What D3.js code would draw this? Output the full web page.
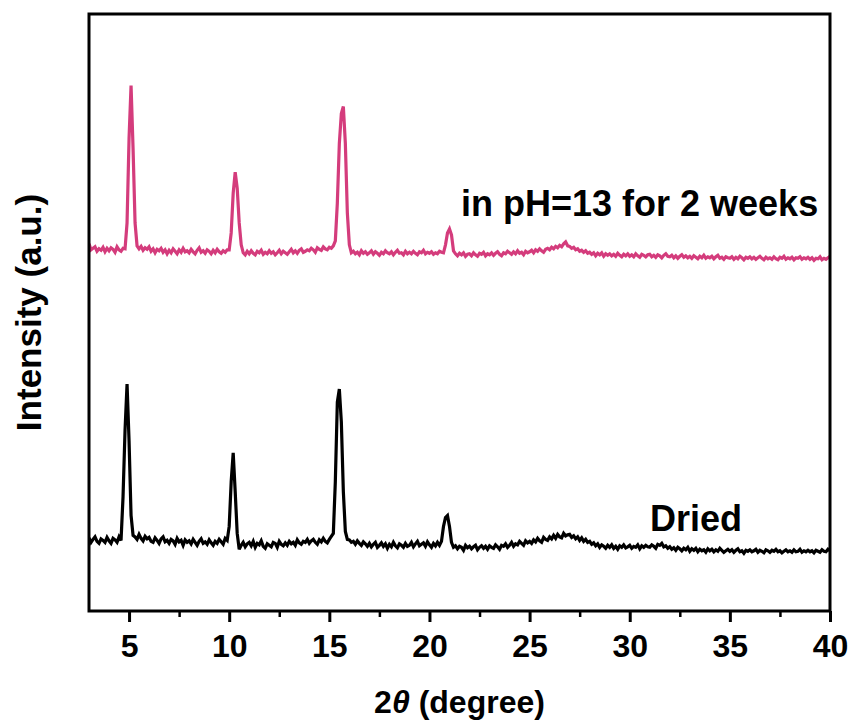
<!DOCTYPE html>
<html>
<head>
<meta charset="utf-8">
<script src="https://cdn.jsdelivr.net/npm/d3@7"></script>
<style>
  html, body { margin: 0; padding: 0; background: #fff; }
  svg { display: block; font-family: "Liberation Sans", Arial, sans-serif; }
</style>
</head>
<body>
<svg id="chart" width="854" height="727"></svg>
<script>
// XRD step scan: 2θ from 3° to 40°, 0.1° per step
const scanStart = 3.0;
const scanStep = 0.1;

// Dried sample (counts)
const dried = [
  735, 690, 720, 745, 700, 680, 725, 710, 690, 740,
  705, 680, 730, 715, 690, 745, 710, 1150, 1820, 2280,
  1710, 960, 760, 745, 720, 770, 730, 705, 750, 725,
  740, 700, 690, 735, 710, 680, 725, 745, 695, 710,
  680, 720, 705, 670, 730, 695, 710, 660, 715, 690,
  705, 675, 720, 690, 660, 700, 725, 680, 695, 670,
  715, 685, 660, 700, 680, 720, 695, 670, 730, 710,
  850, 1300, 1590, 1200, 780, 620, 660, 690, 645, 675,
  690, 655, 700, 640, 680, 665, 705, 650, 630, 675,
  660, 645, 690, 680, 640, 700, 670, 655, 685, 660,
  700, 675, 690, 660, 715, 685, 670, 700, 690, 720,
  680, 705, 720, 690, 670, 715, 695, 730, 700, 685,
  720, 750, 780, 1300, 2100, 2230, 1900, 1200, 800, 720,
  715, 690, 700, 670, 705, 680, 660, 695, 675, 650,
  680, 645, 670, 690, 640, 660, 685, 650, 675, 630,
  670, 645, 690, 655, 635, 675, 660, 640, 680, 650,
  660, 690, 645, 675, 700, 655, 670, 685, 650, 695,
  665, 640, 680, 655, 690, 660, 700, 850, 940, 960,
  850, 690, 640, 655, 625, 650, 640, 610, 660, 635,
  650, 625, 645, 660, 615, 640, 655, 630, 650, 620,
  655, 640, 630, 665, 645, 620, 660, 650, 675, 640,
  660, 690, 650, 675, 665, 700, 680, 660, 705, 685,
  700, 680, 715, 695, 730, 705, 690, 740, 720, 710,
  745, 725, 760, 730, 770, 745, 735, 780, 755, 765,
  770, 740, 755, 725, 745, 710, 735, 700, 720, 690,
  700, 670, 685, 655, 675, 640, 665, 650, 630, 660,
  640, 665, 630, 650, 620, 655, 640, 665, 635, 645,
  660, 630, 650, 640, 665, 625, 655, 640, 660, 645,
  640, 665, 650, 630, 670, 660, 680, 645, 655, 630,
  645, 620, 635, 610, 640, 625, 605, 630, 615, 640,
  600, 625, 610, 630, 595, 620, 605, 615, 590, 625,
  605, 620, 595, 615, 600, 630, 610, 590, 605, 620,
  600, 615, 590, 610, 625, 595, 605, 580, 610, 600,
  615, 595, 605, 620, 590, 610, 600, 585, 615, 605,
  590, 610, 600, 620, 595, 605, 585, 600, 615, 595,
  605, 590, 615, 595, 600, 620, 590, 605, 595, 610,
  595, 605, 585, 610, 600, 590, 615, 600, 595, 620,
  605
];

// Sample kept in pH = 13 for 2 weeks (counts)
const treated = [
  790, 730, 745, 760, 715, 740, 725, 755, 710, 745,
  720, 750, 735, 705, 760, 730, 715, 745, 740, 1000,
  1850, 2380, 1750, 1000, 770, 740, 765, 725, 750, 735,
  760, 715, 740, 700, 735, 720, 745, 705, 730, 690,
  725, 700, 740, 715, 690, 730, 705, 745, 710, 720,
  700, 735, 710, 690, 725, 750, 705, 720, 695, 730,
  715, 690, 725, 700, 735, 710, 695, 720, 705, 730,
  730, 900, 1300, 1510, 1350, 1000, 780, 700, 680, 715,
  690, 720, 695, 680, 715, 700, 725, 685, 705, 690,
  720, 695, 710, 680, 700, 725, 690, 715, 700, 685,
  710, 735, 700, 720, 695, 725, 740, 705, 715, 730,
  720, 745, 730, 705, 750, 735, 725, 760, 740, 730,
  755, 745, 770, 820, 1200, 1800, 2100, 2170, 1800, 1100,
  780, 700, 715, 690, 705, 680, 720, 695, 710, 685,
  700, 720, 685, 710, 695, 675, 705, 690, 720, 700,
  690, 710, 680, 705, 725, 695, 700, 680, 715, 690,
  705, 690, 715, 695, 680, 710, 700, 725, 690, 705,
  695, 710, 685, 700, 690, 715, 705, 700, 780, 900,
  940, 880, 720, 690, 670, 695, 680, 700, 665, 685,
  690, 670, 700, 680, 665, 695, 685, 705, 670, 690,
  680, 700, 675, 695, 710, 685, 670, 700, 690, 715,
  700, 685, 710, 690, 720, 695, 705, 680, 715, 700,
  710, 725, 700, 730, 715, 740, 720, 705, 735, 745,
  730, 755, 740, 765, 750, 775, 760, 790, 810, 770,
  765, 745, 755, 730, 740, 715, 725, 705, 720, 695,
  705, 685, 700, 670, 695, 680, 700, 665, 690, 675,
  690, 670, 685, 665, 695, 675, 660, 685, 670, 690,
  665, 680, 660, 690, 670, 655, 685, 675, 660, 680,
  685, 660, 675, 655, 680, 670, 650, 675, 690, 665,
  660, 675, 650, 670, 645, 665, 680, 655, 670, 650,
  665, 645, 670, 655, 640, 665, 650, 675, 645, 660,
  650, 665, 640, 660, 675, 645, 655, 635, 660, 650,
  645, 660, 635, 655, 640, 665, 650, 630, 655, 645,
  660, 640, 655, 635, 650, 665, 645, 630, 655, 640,
  650, 635, 660, 640, 630, 655, 645, 665, 635, 650,
  640, 655, 630, 650, 645, 660, 635, 650, 640, 655,
  635, 650, 625, 645, 640, 660, 630, 645, 635, 650,
  665
];

// vertical stacking offset for the upper pattern
const treatedOffset = 2900;

const majorTicks = [5, 10, 15, 20, 25, 30, 35, 40];
const minorTicks = [7.5, 12.5, 17.5, 22.5, 27.5, 32.5, 37.5];

const seriesLabels = ["in pH=13 for 2 weeks", "Dried"];
const seriesColors = ["#d43c7c", "#000000"];

const svg = d3.select("#chart");
const margin = { left: 89, top: 14, right: 24, bottom: 116 };
const W = 854, H = 727;
const plotW = W - margin.left - margin.right;
const plotH = H - margin.top - margin.bottom;

const x = d3.scaleLinear().domain([3, 40]).range([margin.left, margin.left + plotW]);
const y = d3.scaleLinear().domain([0, 6000]).range([margin.top + plotH, margin.top]);

const angle = i => scanStart + i * scanStep;

const line = d3.line()
  .x(d => x(d.t))
  .y(d => y(d.v));

const treatedPts = treated.map((v, i) => ({ t: angle(i), v: v + treatedOffset }));
const driedPts = dried.map((v, i) => ({ t: angle(i), v: v }));

svg.append("clipPath").attr("id", "plotclip")
  .append("rect")
  .attr("x", margin.left).attr("y", margin.top)
  .attr("width", plotW).attr("height", plotH);

const g = svg.append("g").attr("clip-path", "url(#plotclip)");

g.append("path")
  .datum(treatedPts)
  .attr("d", line)
  .attr("fill", "none")
  .attr("stroke", seriesColors[0])
  .attr("stroke-width", 3.2)
  .attr("stroke-linejoin", "miter")
  .attr("stroke-miterlimit", 3);

g.append("path")
  .datum(driedPts)
  .attr("d", line)
  .attr("fill", "none")
  .attr("stroke", seriesColors[1])
  .attr("stroke-width", 3.2)
  .attr("stroke-linejoin", "miter")
  .attr("stroke-miterlimit", 3);

// bottom axis: major ticks with labels, minor ticks without
const axisY = margin.top + plotH;
const xAxis = d3.axisBottom(x)
  .tickValues(majorTicks)
  .tickSize(11)
  .tickSizeOuter(0)
  .tickPadding(12)
  .tickFormat(d3.format("d"));

const ax = svg.append("g")
  .attr("transform", `translate(0,${axisY})`)
  .call(xAxis);
ax.select(".domain").remove();
ax.selectAll(".tick line").attr("stroke", "#000").attr("stroke-width", 3);
ax.selectAll(".tick text")
  .attr("fill", "#000")
  .style("font-family", "'Liberation Sans', Arial, sans-serif")
  .style("font-size", "32px")
  .style("font-weight", "bold");

const axMinor = svg.append("g")
  .attr("transform", `translate(0,${axisY})`)
  .call(d3.axisBottom(x).tickValues(minorTicks).tickSize(6).tickSizeOuter(0).tickFormat(""));
axMinor.select(".domain").remove();
axMinor.selectAll(".tick line").attr("stroke", "#000").attr("stroke-width", 2.5);

// frame
svg.append("rect")
  .attr("x", margin.left).attr("y", margin.top)
  .attr("width", plotW).attr("height", plotH)
  .attr("fill", "none")
  .attr("stroke", "#000")
  .attr("stroke-width", 3);

// axis titles
const xTitle = svg.append("text")
  .attr("x", margin.left + plotW / 2)
  .attr("y", 713)
  .attr("text-anchor", "middle")
  .style("font-size", "32px")
  .style("font-weight", "bold");
xTitle.append("tspan").text("2");
xTitle.append("tspan").style("font-style", "italic").text("θ");
xTitle.append("tspan").text(" (degree)");

svg.append("text")
  .attr("transform", `translate(41,${margin.top + plotH / 2}) rotate(-90)`)
  .attr("text-anchor", "middle")
  .style("font-size", "35px")
  .style("font-weight", "bold")
  .text("Intensity (a.u.)");

// series labels
svg.append("text")
  .attr("x", 461).attr("y", 216)
  .style("font-size", "36px")
  .style("font-weight", "bold")
  .text(seriesLabels[0]);

svg.append("text")
  .attr("x", 650).attr("y", 531)
  .style("font-size", "36px")
  .style("font-weight", "bold")
  .text(seriesLabels[1]);
</script>
</body>
</html>
